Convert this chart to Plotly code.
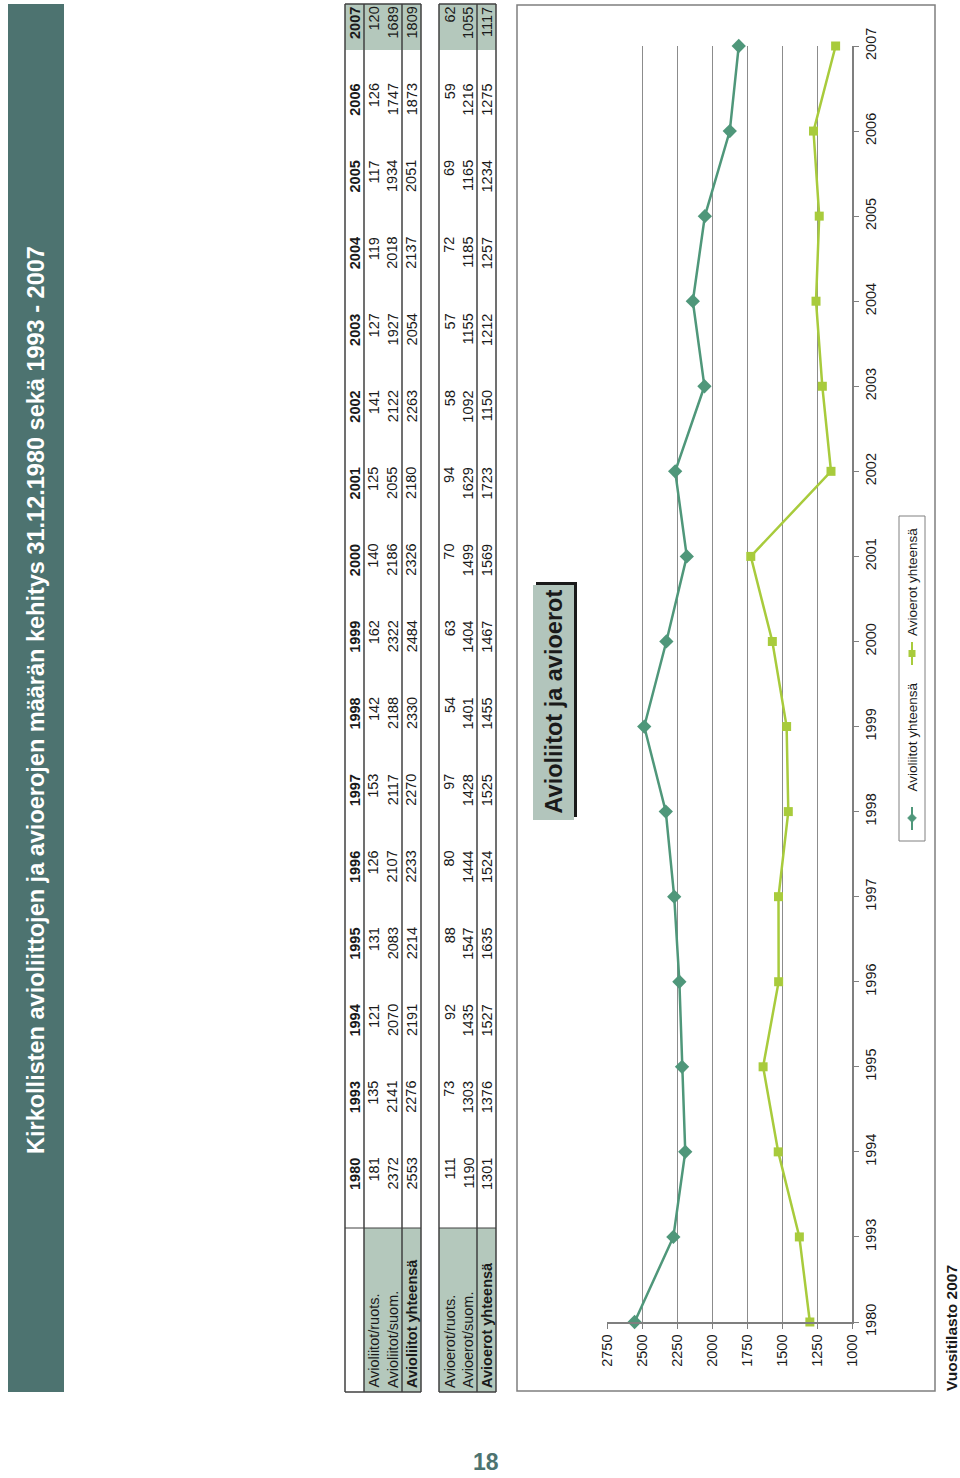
import plotly.graph_objects as go

# ---------------- data ----------------
years = ["1980", "1993", "1994", "1995", "1996", "1997", "1998", "1999",
         "2000", "2001", "2002", "2003", "2004", "2005", "2006", "2007"]
avioliitot_ruots = [181, 135, 121, 131, 126, 153, 142, 162, 140, 125, 141, 127, 119, 117, 126, 120]
avioliitot_suom = [2372, 2141, 2070, 2083, 2107, 2117, 2188, 2322, 2186, 2055, 2122, 1927, 2018, 1934, 1747, 1689]
avioliitot_yht = [2553, 2276, 2191, 2214, 2233, 2270, 2330, 2484, 2326, 2180, 2263, 2054, 2137, 2051, 1873, 1809]
avioerot_ruots = [111, 73, 92, 88, 80, 97, 54, 63, 70, 94, 58, 57, 72, 69, 59, 62]
avioerot_suom = [1190, 1303, 1435, 1547, 1444, 1428, 1401, 1404, 1499, 1629, 1092, 1155, 1185, 1165, 1216, 1055]
avioerot_yht = [1301, 1376, 1527, 1635, 1524, 1525, 1455, 1467, 1569, 1723, 1150, 1212, 1257, 1234, 1275, 1117]
value_ticks = [1000, 1250, 1500, 1750, 2000, 2250, 2500, 2750]
row_labels = ["Avioliitot/ruots.", "Avioliitot/suom.", "Avioliitot yhteensä",
              "Avioerot/ruots.", "Avioerot/suom.", "Avioerot yhteensä"]
series_names = ["Avioliitot yhteensä", "Avioerot yhteensä"]
page_title = "Kirkollisten avioliittojen ja avioerojen määrän kehitys 31.12.1980 sekä 1993 - 2007"
chart_title = "Avioliitot ja avioerot"
footer = "Vuositilasto 2007"
page_no = "18"

# ---------------- styling ----------------
W, H = 960, 1478
FONT = "Liberation Sans, Arial, sans-serif"
TEAL = "#4d7370"
GREEN_CELL = "#b4c8bc"
C1 = "#4f977a"
C2 = "#a8cb3c"
LINE = "#404040"
TXT = "#1a1a1a"


def X(p):
    return p / W


def Y(p):
    return 1 - p / H


shapes = []
annotations = []


def rect(x0, y0, x1, y1, fill=None, line_color=None, lw=0, layer="below"):
    shapes.append(dict(type="rect", xref="paper", yref="paper",
                       x0=X(x0), x1=X(x1), y0=Y(y1), y1=Y(y0),
                       fillcolor=fill if fill else "rgba(0,0,0,0)",
                       line=dict(color=line_color if line_color else "rgba(0,0,0,0)", width=lw),
                       layer=layer))


def seg(x0, y0, x1, y1, color=LINE, lw=1.5, layer="above"):
    shapes.append(dict(type="line", xref="paper", yref="paper",
                       x0=X(x0), x1=X(x1), y0=Y(y0), y1=Y(y1),
                       line=dict(color=color, width=lw), layer=layer))


def text(s, x, y, size, xanchor="center", yanchor="middle", bold=False, color=TXT, angle=-90):
    annotations.append(dict(text=("<b>%s</b>" % s) if bold else s,
                            xref="paper", yref="paper", x=X(x), y=Y(y),
                            xanchor=xanchor, yanchor=yanchor, showarrow=False,
                            textangle=angle, borderpad=0,
                            font=dict(family=FONT, size=size, color=color)))


# ---- title bar ----
rect(8, 4, 64, 1392, fill=TEAL)
text(page_title, 36, 700, 23.5, bold=True, color="white")

# ---- tables ----
T_TOP, T_BOT, T_LAB = 4, 1392, 1228
rect(364, T_LAB, 421, T_BOT, fill=GREEN_CELL)
rect(345, T_TOP, 421, 50, fill=GREEN_CELL)
rect(439, T_LAB, 496, T_BOT, fill=GREEN_CELL)
rect(439, T_TOP, 496, 50, fill=GREEN_CELL)
for xx in (345, 364, 402, 421):
    seg(xx, T_TOP, xx, T_BOT)
for yy in (T_TOP, T_BOT):
    seg(345, yy, 421, yy)
seg(345, T_LAB, 421, T_LAB, lw=1)
for xx in (439, 477, 496):
    seg(xx, T_TOP, xx, T_BOT)
for yy in (T_TOP, T_BOT):
    seg(439, yy, 496, yy)
seg(439, T_LAB, 496, T_LAB, lw=1)

row_x = [373.5, 392.5, 411.5, 449.5, 468, 487]
row_data = [avioliitot_ruots, avioliitot_suom, avioliitot_yht,
            avioerot_ruots, avioerot_suom, avioerot_yht]
n = len(years)
step = (1157 - 6) / (n - 1)
for k, yr in enumerate(years):
    ytop = 6 + (n - 1 - k) * step
    text(yr, 355, ytop, 14.5, yanchor="top", bold=True)
    for rx, vals in zip(row_x, row_data):
        text(str(vals[k]), rx, ytop, 14.5, yanchor="top")
for i, (rx, lab) in enumerate(zip(row_x, row_labels)):
    text(lab, rx, 1389, 14.5, yanchor="bottom", bold=(i in (2, 5)))

# ---- chart frame ----
rect(517, 5, 935, 1391, line_color="#7f7f7f", lw=1.5, layer="below")

# chart title box with shadow
rect(536, 582, 577, 817, fill="#1a1a1a", layer="above")
rect(533, 585, 574, 820, fill="#b2c5bc", layer="above")
text(chart_title, 553.5, 702, 23.5, bold=True)

# ---- manual (rotated) legend ----
rect(899, 516, 925, 841, line_color="#808080", lw=1, layer="above")
lx = 912
seg(lx, 807, lx, 830, color=C1, lw=2)
d = 4.5
shapes.append(dict(type="path", xref="paper", yref="paper",
                   path="M %f,%f L %f,%f L %f,%f L %f,%f Z" % (
                       X(lx), Y(818 - d), X(lx + d), Y(818), X(lx), Y(818 + d), X(lx - d), Y(818)),
                   fillcolor=C1, line=dict(color=C1, width=0.5), layer="above"))
text(series_names[0], lx, 793, 13.5, yanchor="bottom")
seg(lx, 642, lx, 665, color=C2, lw=2)
rect(lx - 3.5, 650, lx + 3.5, 657, fill=C2, layer="above")
text(series_names[1], lx, 637, 13.5, yanchor="bottom")

# ---- footer & page number ----
text(footer, 951, 1392, 15.5, yanchor="bottom", bold=True)
text(page_no, 486, 1462, 23, bold=True, color=TEAL, angle=0)

# ---------------- chart ----------------
fig = go.Figure()
fig.add_trace(go.Scatter(x=avioliitot_yht, y=years, mode="lines+markers",
                         name=series_names[0], cliponaxis=False,
                         line=dict(color=C1, width=2.5),
                         marker=dict(symbol="diamond", size=11, color=C1)))
fig.add_trace(go.Scatter(x=avioerot_yht, y=years, mode="lines+markers",
                         name=series_names[1], cliponaxis=False,
                         line=dict(color=C2, width=2.5),
                         marker=dict(symbol="square", size=9, color=C2)))

fig.update_layout(
    width=W, height=H, autosize=False,
    margin=dict(l=0, r=0, t=0, b=0, pad=0, autoexpand=False),
    paper_bgcolor="white", plot_bgcolor="white",
    showlegend=False,
    font=dict(family=FONT, size=14.5, color=TXT),
    shapes=shapes, annotations=annotations,
    xaxis=dict(domain=[X(607), X(852)], range=[2750, 1000], automargin=False,
               tickvals=value_ticks, tickangle=-90,
               showgrid=True, gridcolor="#8c8c8c", gridwidth=1,
               showline=True, linecolor="#7f7f7f", linewidth=1.5,
               ticks="outside", ticklen=5, tickcolor="#7f7f7f",
               zeroline=False, tickfont=dict(size=14.5, color=TXT)),
    yaxis=dict(domain=[Y(1322), Y(46)], type="category", range=[0, len(years) - 1],
               automargin=False,
               side="right", showgrid=False,
               showline=True, linecolor="#7f7f7f", linewidth=1.5,
               ticks="outside", ticklen=5, tickcolor="#7f7f7f",
               tickangle=-90, zeroline=False,
               tickfont=dict(size=14.5, color=TXT)),
)

fig.write_html("out.html",
               config={"displayModeBar": False},
               post_script="document.body.style.margin='0px';document.body.style.overflow='hidden';")
